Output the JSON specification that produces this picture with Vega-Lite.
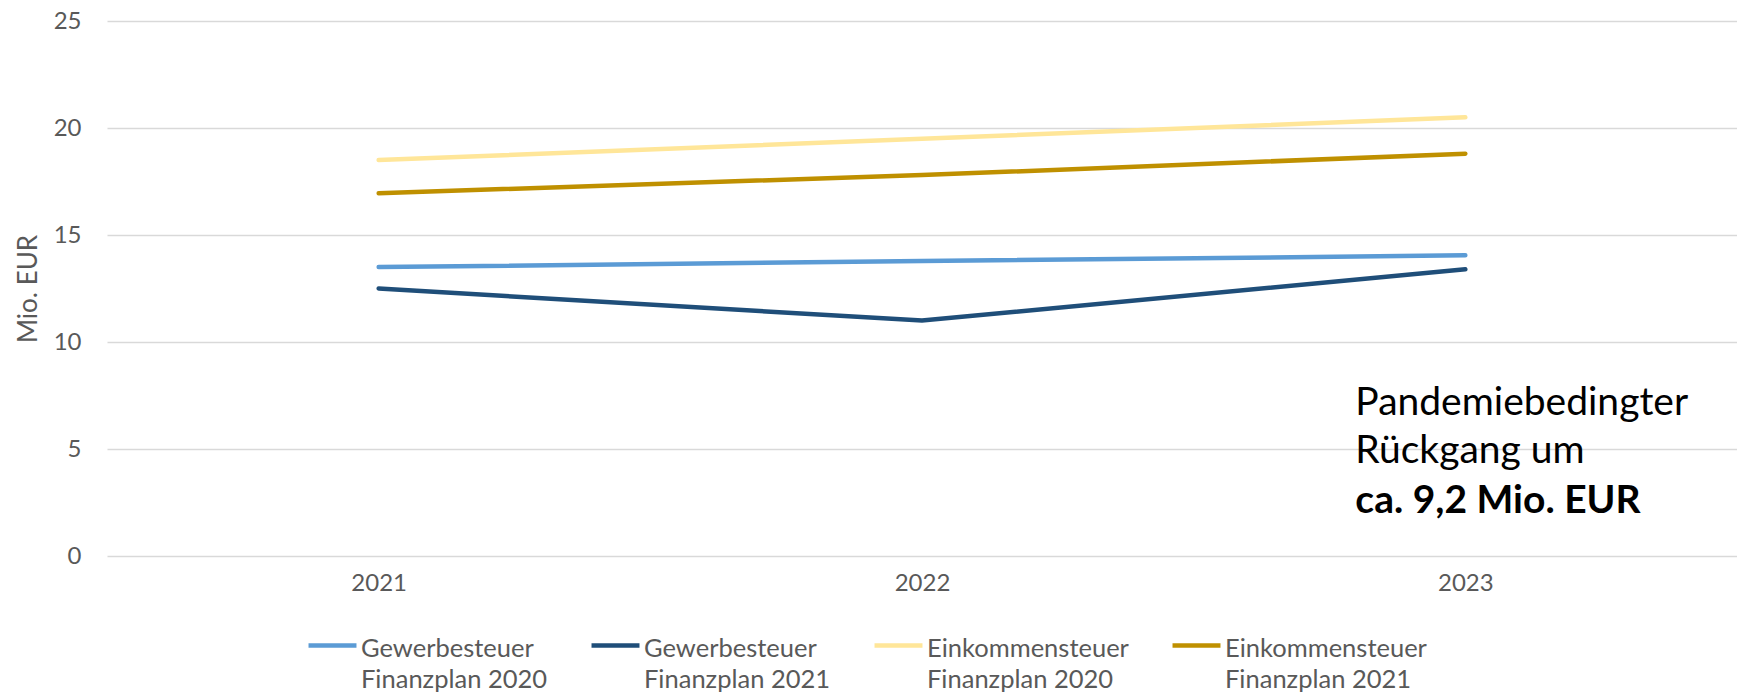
{
  "$schema": "https://vega.github.io/schema/vega-lite/v6.json",
  "autosize": {"type": "none"},
  "padding": {"left": 107, "top": 21, "right": 0, "bottom": 140},
  "width": 1630,
  "height": 535,
  "config": {
    "font": "Lato",
    "view": {"stroke": null},
    "axis": {"labelFont": "Lato", "titleFont": "Lato", "labelColor": "#595959", "titleColor": "#595959"},
    "legend": {"labelFont": "Lato", "labelColor": "#595959"}
  },
  "layer": [
    {
      "data": {"values": [
        {"Jahr": "2021", "Wert": 13.5, "Serie": "Gewerbesteuer Finanzplan 2020"},
        {"Jahr": "2022", "Wert": 13.78, "Serie": "Gewerbesteuer Finanzplan 2020"},
        {"Jahr": "2023", "Wert": 14.05, "Serie": "Gewerbesteuer Finanzplan 2020"},
        {"Jahr": "2021", "Wert": 12.5, "Serie": "Gewerbesteuer Finanzplan 2021"},
        {"Jahr": "2022", "Wert": 11.0, "Serie": "Gewerbesteuer Finanzplan 2021"},
        {"Jahr": "2023", "Wert": 13.4, "Serie": "Gewerbesteuer Finanzplan 2021"},
        {"Jahr": "2021", "Wert": 18.5, "Serie": "Einkommensteuer Finanzplan 2020"},
        {"Jahr": "2022", "Wert": 19.5, "Serie": "Einkommensteuer Finanzplan 2020"},
        {"Jahr": "2023", "Wert": 20.5, "Serie": "Einkommensteuer Finanzplan 2020"},
        {"Jahr": "2021", "Wert": 16.95, "Serie": "Einkommensteuer Finanzplan 2021"},
        {"Jahr": "2022", "Wert": 17.8, "Serie": "Einkommensteuer Finanzplan 2021"},
        {"Jahr": "2023", "Wert": 18.8, "Serie": "Einkommensteuer Finanzplan 2021"}
      ]},
      "mark": {"type": "line", "strokeWidth": 4.5, "strokeCap": "round"},
      "encoding": {
        "x": {
          "field": "Jahr", "type": "ordinal",
          "scale": {"type": "point", "padding": 0.5},
          "axis": {"title": null, "labelAngle": 0, "domain": false, "ticks": false, "labelFontSize": 24, "labelPadding": 27, "labelBaseline": "middle", "grid": false}
        },
        "y": {
          "field": "Wert", "type": "quantitative",
          "scale": {"domain": [0, 25], "nice": false},
          "axis": {"title": "Mio. EUR", "values": [0, 5, 10, 15, 20, 25], "domain": false, "ticks": false, "labelFontSize": 24, "labelPadding": 26, "titleFontSize": 26, "titleFontWeight": "normal", "titlePadding": 12, "gridColor": "#d9d9d9", "gridWidth": 1.5}
        },
        "color": {
          "field": "Serie", "type": "nominal",
          "scale": {
            "domain": ["Gewerbesteuer Finanzplan 2020", "Gewerbesteuer Finanzplan 2021", "Einkommensteuer Finanzplan 2020", "Einkommensteuer Finanzplan 2021"],
            "range": ["#5B9BD5", "#1F4E79", "#FFE699", "#BF9000"]
          },
          "legend": {
            "title": null,
            "orient": "none",
            "legendX": 199,
            "legendY": 598,
            "direction": "horizontal",
            "columns": 4,
            "columnPadding": 34,
            "symbolType": "stroke",
            "symbolSize": 2300,
            "symbolStrokeWidth": 4.5,
            "labelFontSize": 25.5,
            "labelOffset": 2,
            "labelLimit": 400,
            "labelBaseline": "top",
            "labelExpr": "[slice(datum.label, 0, indexof(datum.label, ' Finanzplan')), slice(datum.label, indexof(datum.label, ' Finanzplan') + 1)]",
            "encode": {"labels": {"update": {"lineHeight": {"value": 31}, "dy": {"value": -9}}}}
          }
        }
      }
    },
    {
      "data": {"values": [
        {"Jahr": "2023", "Wert": 6.6, "Text": "Pandemiebedingter"},
        {"Jahr": "2023", "Wert": 4.35, "Text": "Rückgang um"}
      ]},
      "mark": {"type": "text", "align": "left", "baseline": "alphabetic", "dx": -110, "fontSize": 39, "color": "#000000", "font": "Lato"},
      "encoding": {
        "x": {"field": "Jahr", "type": "ordinal"},
        "y": {"field": "Wert", "type": "quantitative"},
        "text": {"field": "Text"}
      }
    },
    {
      "data": {"values": [
        {"Jahr": "2023", "Wert": 2.0, "Text": "ca. 9,2 Mio. EUR"}
      ]},
      "mark": {"type": "text", "align": "left", "baseline": "alphabetic", "dx": -110, "fontSize": 39, "fontWeight": "bold", "color": "#000000", "font": "Lato"},
      "encoding": {
        "x": {"field": "Jahr", "type": "ordinal"},
        "y": {"field": "Wert", "type": "quantitative"},
        "text": {"field": "Text"}
      }
    }
  ]
}
